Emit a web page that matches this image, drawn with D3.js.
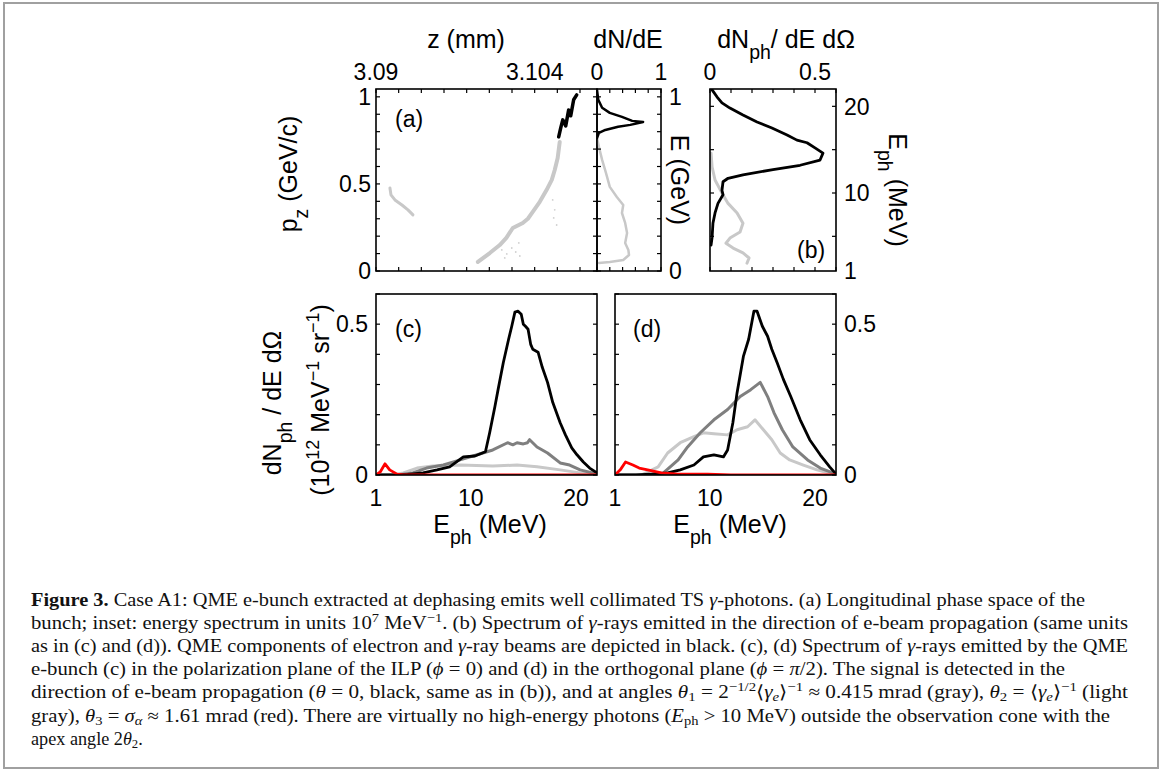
<!DOCTYPE html>
<html><head><meta charset="utf-8">
<script src="https://cdn.jsdelivr.net/npm/d3@7"></script>
<style>body{margin:0;background:#fff}svg{display:block}</style>
</head><body>
<svg id="c" width="1165" height="771"></svg>
<script>
// ---------------- DATA ----------------
// (a) longitudinal phase space: z (mm) vs p_z (GeV/c)
const phaseGrayZ  = [3.09899,3.10004,3.10092,3.10150,3.10207,3.10295,3.10340,3.10383,3.10445,3.10506,3.10551,3.10577,3.10603,3.10621];
const phaseGrayPz = [0.052,0.103,0.149,0.190,0.247,0.276,0.300,0.339,0.397,0.466,0.523,0.580,0.649,0.741];
const phaseBlackZ  = [3.10612,3.10630,3.10648,3.10674,3.10700,3.10718,3.10744,3.10771];
const phaseBlackPz = [0.770,0.822,0.868,0.833,0.925,0.891,0.983,1.011];
const phaseTailZ  = [3.09123,3.09132,3.09167,3.09229,3.09282,3.09326];
const phaseTailPz = [0.477,0.437,0.408,0.379,0.351,0.322];
const haloZ  = [3.1011,3.10154,3.10198,3.10233,3.10136,3.10260,3.10559,3.10577,3.10594,3.10568,3.10269];
const haloPz = [0.121,0.098,0.132,0.109,0.075,0.161,0.408,0.351,0.264,0.305,0.086];
// inset: dN/dE vs E (GeV)
const insetBlackN = [0,0.02,0.08,0.2,0.39,0.55,0.72,0.52,0.33,0.13,0.03,0];
const insetBlackE = [1.04,0.983,0.937,0.908,0.885,0.862,0.856,0.839,0.828,0.810,0.793,0.764];
const insetGrayN = [0,0.03,0.08,0.14,0.2,0.31,0.41,0.39,0.44,0.47,0.44,0.49,0.5,0.41,0.2,0.03];
const insetGrayE = [0.764,0.713,0.638,0.563,0.483,0.425,0.379,0.333,0.276,0.218,0.161,0.121,0.092,0.063,0.052,0.046];
// (b) dN_ph/dE dΩ vs E_ph (MeV)
const bBlackN = [0.01,0.033,0.057,0.095,0.157,0.224,0.295,0.367,0.414,0.462,0.5,0.538,0.524,0.429,0.3,0.157,0.086,0.062,0.057,0.062,0.038,0.024,0.014,0.01,0.005];
const bBlackE = [21.9,21.1,20.4,19.8,19.0,18.2,17.5,16.7,16.1,15.8,15.2,14.6,13.8,13.2,12.7,12.1,11.7,11.3,10.3,9.8,8.8,7.7,6.5,4.9,4.0];
const bGrayN = [0.005,0.01,0.024,0.057,0.086,0.129,0.157,0.143,0.095,0.076,0.110,0.157,0.186,0.176];
const bGrayE = [14.6,13.0,11.5,10.0,8.8,7.7,6.5,5.5,4.8,4.2,3.65,3.1,2.5,1.9];
// (c) phi = 0 : E_ph (MeV) vs dN_ph/dE dΩ
const cBlackE = [1,3,4,5.47,6.8,8.0,9.3,10.4,11.4,11.8,12.3,12.6,13.1,13.6,13.9,14.2,14.5,14.8,15.0,15.2,15.45,15.7,15.9,16.4,16.8,17.3,17.8,18.5,19.0,19.6,20.1,20.7,21.3,22];
const cBlackV = [0,0,0.002,0.007,0.017,0.027,0.06,0.063,0.077,0.14,0.227,0.283,0.373,0.45,0.493,0.54,0.543,0.533,0.5,0.493,0.483,0.433,0.417,0.407,0.357,0.307,0.24,0.173,0.133,0.09,0.067,0.043,0.023,0.007];
const cGrayE = [1,3,4.5,5.8,7.4,9.0,10.6,12.1,13.5,14.0,14.4,15.0,15.4,15.6,16.3,17.3,18.5,19.4,20.4,22];
const cGrayV = [0,0,0.007,0.023,0.033,0.05,0.067,0.083,0.107,0.100,0.107,0.103,0.107,0.117,0.093,0.073,0.04,0.033,0.017,0.003];
const cLightE = [1,2.5,3.6,4.9,6.4,9.0,12.1,14.4,16.3,18.5,20.4,22];
const cLightV = [0,0,0.007,0.023,0.03,0.033,0.03,0.033,0.027,0.017,0.007,0];
const cRedE = [1,1.4,1.86,2.3,3.0,3.6,22];
const cRedV = [0,0.01,0.037,0.017,0.003,0,0];
// (d) phi = pi/2
const dBlackE = [1,3,4.4,6.0,7.2,8.5,9.4,10.4,11.3,11.7,12.2,12.6,13.2,13.7,14.2,14.5,15.0,15.5,15.9,16.4,17.0,17.7,18.6,19.5,20.5,21.4,21.9];
const dBlackV = [0,0,0.003,0.007,0.017,0.033,0.06,0.067,0.06,0.083,0.173,0.273,0.393,0.45,0.543,0.543,0.493,0.46,0.417,0.373,0.317,0.26,0.183,0.117,0.067,0.027,0.007];
const dGrayE = [1,3,4.1,5.6,7.0,7.9,9.1,10.4,11.7,12.9,13.9,14.8,15.5,16.1,16.9,17.9,19.3,20.5,21.7];
const dGrayV = [0,0,0,0.007,0.05,0.093,0.14,0.183,0.217,0.26,0.283,0.307,0.26,0.207,0.15,0.093,0.05,0.023,0.007];
const dLightE = [1,2.5,3.5,5.1,6.0,7.2,8.5,9.4,10.4,11.7,12.6,13.6,14.3,15.1,15.9,16.7,17.6,18.9,20.2,21.7];
const dLightV = [0,0,0,0.027,0.073,0.107,0.127,0.14,0.137,0.133,0.15,0.16,0.183,0.15,0.117,0.073,0.05,0.033,0.017,0.003];
const dRedE = [1,1.5,2.0,2.7,3.3,4.1,5.4,7.0,9.8,12,22];
const dRedV = [0,0.017,0.043,0.033,0.023,0.017,0.007,0.003,0.003,0,0];

// ticks and tick labels
const zTicks = [3.090,3.092,3.094,3.096,3.098,3.100,3.102,3.104,3.106,3.108];
const zTickLabels = [[3.090,"3.09"],[3.104,"3.104"]];
const pzTicks = [0,0.1,0.2,0.3,0.4,0.5,0.6,0.7,0.8,0.9,1.0];
const pzTickLabels = [[0,"0"],[0.5,"0.5"],[1,"1"]];
const insetXTicks = [0,0.2,0.4,0.6,0.8,1];
const insetXLabels = [[0,"0"],[1,"1"]];
const insetYLabels = [[0,"0"],[1,"1"]];
const bXTicks = [0,0.1,0.2,0.3,0.4,0.5,0.6];
const bXLabels = [[0,"0"],[0.5,"0.5"]];
const ephTicks = [5,10,15,20];
const ephLabels = [[1,"1"],[10,"10"],[20,"20"]];
const specTicks = [0,0.1,0.2,0.3,0.4,0.5,0.6];
const specLabels = [[0,"0"],[0.5,"0.5"]];

// caption
const caption = [
 [["Figure 3.","b"],[" Case A1: QME e-bunch extracted at dephasing emits well collimated TS "],["γ","i"],["-photons. (a) Longitudinal phase space of the"]],
 [["bunch; inset: energy spectrum in units 10"],["7","sup"],[" MeV"],["−1","sup"],[". (b) Spectrum of "],["γ","i"],["-rays emitted in the direction of e-beam propagation (same units"]],
 [["as in (c) and (d)). QME components of electron and "],["γ","i"],["-ray beams are depicted in black. (c), (d) Spectrum of "],["γ","i"],["-rays emitted by the QME"]],
 [["e-bunch (c) in the polarization plane of the ILP ("],["ϕ","i"],[" = 0) and (d) in the orthogonal plane ("],["ϕ","i"],[" = "],["π","i"],["/2). The signal is detected in the"]],
 [["direction of e-beam propagation ("],["θ","i"],[" = 0, black, same as in (b)), and at angles "],["θ","i"],["1","sub"],[" = 2"],["−1/2","sup"],["⟨"],["γ","i"],["e","isub"],["⟩"],["−1","sup"],[" ≈ 0.415 mrad (gray), "],["θ","i"],["2","sub"],[" = ⟨"],["γ","i"],["e","isub"],["⟩"],["−1","sup"],[" (light"]],
 [["gray), "],["θ","i"],["3","sub"],[" = "],["σ","i"],["α","isub"],[" ≈ 1.61 mrad (red). There are virtually no high-energy photons ("],["E","i"],["ph","sub"],[" > 10 MeV) outside the observation cone with the"]],
 [["apex angle 2"],["θ","i"],["2","sub"],["."]]
];
const captionEnds = [1085,1128,1128,1065,1128,1110,null];

// ---------------- DRAW ----------------
const svg = d3.select("#c");
const FONT = "'Liberation Sans', Arial, Helvetica, sans-serif";
const TFS = 23, LFS = 25;

svg.append("rect").attr("x",4).attr("y",3).attr("width",1154).attr("height",765)
  .attr("fill","none").attr("stroke","#a0a0a0").attr("stroke-width",2);

const PA = {x:376,y:89,w:221,h:182}, PI = {x:597,y:89,w:64,h:182}, PB = {x:710,y:89,w:126,h:182};
const PC = {x:376,y:294,w:221,h:181}, PD = {x:615,y:294,w:221,h:181};

const xZ = d3.scaleLinear([3.09,3.1095],[PA.x,PA.x+PA.w]);
const yP = d3.scaleLinear([0,1.045],[PA.y+PA.h,PA.y]);
const xI = d3.scaleLinear([0,1],[PI.x,PI.x+PI.w]);
const xB = d3.scaleLinear([0,0.6],[PB.x,PB.x+PB.w]);
const yB = d3.scaleLinear([1,22],[PB.y+PB.h,PB.y]);
const xC = d3.scaleLinear([1,22],[PC.x,PC.x+PC.w]);
const yC = d3.scaleLinear([0,0.6],[PC.y+PC.h,PC.y]);
const xD = d3.scaleLinear([1,22],[PD.x,PD.x+PD.w]);
const yD = d3.scaleLinear([0,0.6],[PD.y+PD.h,PD.y]);

function clip(id,p){ svg.append("clipPath").attr("id",id).append("rect").attr("x",p.x).attr("y",p.y).attr("width",p.w).attr("height",p.h); }
clip("ca",PA); clip("ci",PI); clip("cb",PB); clip("cc",PC); clip("cd",PD);

function curve(xs,ys,sx,sy,color,w,cl){
  const pts = xs.map((v,i)=>[sx(v),sy(ys[i])]);
  svg.append("path").attr("d",d3.line()(pts)).attr("fill","none").attr("stroke",color)
    .attr("stroke-width",w).attr("stroke-linejoin","round").attr("stroke-linecap","round")
    .attr("clip-path","url(#"+cl+")");
}
function tickLine(x1,y1,x2,y2){ svg.append("line").attr("x1",x1).attr("y1",y1).attr("x2",x2).attr("y2",y2).attr("stroke","#000").attr("stroke-width",1.2); }
function xTicks(s,vals,p,len){ vals.forEach(v=>{const x=s(v); tickLine(x,p.y,x,p.y+len); tickLine(x,p.y+p.h,x,p.y+p.h-len);}); }
function yTicks(s,vals,p,len){ vals.forEach(v=>{const y=s(v); tickLine(p.x,y,p.x+len,y); tickLine(p.x+p.w,y,p.x+p.w-len,y);}); }
function frame(p){ svg.append("rect").attr("x",p.x).attr("y",p.y).attr("width",p.w).attr("height",p.h).attr("fill","none").attr("stroke","#000").attr("stroke-width",1.6); }
function txt(x,y,t,anchor,fs){ return svg.append("text").attr("x",x).attr("y",y).attr("text-anchor",anchor||"start")
  .attr("font-family",FONT).attr("font-size",fs||TFS).attr("fill","#000").text(t); }
function rich(parent,segs,fs){
  segs.forEach(([t,k])=>{
    const ts = parent.append("tspan").text(t);
    if(k==="sub"){ ts.attr("font-size",fs*0.78).attr("baseline-shift",(-0.44*fs)+"px"); }
    if(k==="sup"){ ts.attr("font-size",fs*0.72).attr("baseline-shift",(0.42*fs)+"px"); }
  });
}
function richLabel(x,y,rot,segs,fs,anchor){
  const t = svg.append("text").attr("transform",`translate(${x},${y}) rotate(${rot})`)
    .attr("text-anchor",anchor||"middle").attr("font-family",FONT).attr("font-size",fs).attr("fill","#000");
  rich(t,segs,fs); return t;
}

// ---- panel (a)
curve(phaseTailZ,phaseTailPz,xZ,yP,"#c8c8c8",3,"ca");
haloZ.forEach((z,i)=>svg.append("circle").attr("cx",xZ(z)).attr("cy",yP(haloPz[i])).attr("r",0.9).attr("fill","#d0d0d0"));
curve(phaseGrayZ,phaseGrayPz,xZ,yP,"#c8c8c8",4,"ca");
curve(phaseBlackZ,phaseBlackPz,xZ,yP,"#000",3.5,"ca");
xTicks(xZ,zTicks,PA,4); yTicks(yP,pzTicks,PA,4); frame(PA);
zTickLabels.forEach(([v,l])=>txt(xZ(v),PA.y-9,l,"middle"));
pzTickLabels.forEach(([v,l])=>txt(PA.x-5,yP(v),l,"end").attr("dy","0.36em"));
txt(466,48,"z (mm)","middle",LFS);
richLabel(297,174,-90,[["p"],["z","sub"],[" (GeV/c)"]],LFS);
txt(395,127,"(a)","start",TFS);

// ---- inset
curve(insetGrayN,insetGrayE,xI,yP,"#c8c8c8",2.5,"ci");
curve(insetBlackN,insetBlackE,xI,yP,"#000",2.5,"ci");
xTicks(xI,insetXTicks,PI,4); yTicks(yP,pzTicks,PI,4); frame(PI);
insetXLabels.forEach(([v,l])=>txt(xI(v),PI.y-9,l,"middle"));
insetYLabels.forEach(([v,l])=>txt(PI.x+PI.w+8,yP(v),l,"start").attr("dy","0.36em"));
txt(628,48,"dN/dE","middle",LFS);
richLabel(671,180,90,[["E (GeV)"]],LFS);

// ---- panel (b)
curve(bGrayN,bGrayE,xB,yB,"#c8c8c8",3,"cb");
curve(bBlackN,bBlackE,xB,yB,"#000",2.8,"cb");
xTicks(xB,bXTicks,PB,4); yTicks(yB,ephTicks,PB,4); frame(PB);
bXLabels.forEach(([v,l])=>txt(xB(v),PB.y-9,l,"middle"));
ephLabels.forEach(([v,l])=>txt(PB.x+PB.w+8,yB(v),l,"start").attr("dy","0.36em"));
richLabel(786,48,0,[["dN"],["ph","sub"],["/ dE dΩ"]],LFS);
richLabel(889,190,90,[["E"],["ph","sub"],[" (MeV)"]],LFS);
txt(797,258,"(b)","start",TFS);

// ---- panel (c)
curve(cLightE,cLightV,xC,yC,"#c8c8c8",3,"cc");
curve(cGrayE,cGrayV,xC,yC,"#7f7f7f",3,"cc");
curve(cBlackE,cBlackV,xC,yC,"#000",2.8,"cc");
curve(cRedE,cRedV,xC,yC,"#ff0000",2.8,"cc");
yTicks(yC,specTicks,PC,4); frame(PC);
specLabels.forEach(([v,l])=>txt(PC.x-8,yC(v),l,"end").attr("dy","0.36em"));
ephLabels.forEach(([v,l])=>txt(xC(v),506,l,"middle"));
richLabel(490,533,0,[["E"],["ph","sub"],[" (MeV)"]],LFS);
richLabel(281,403,-90,[["dN"],["ph","sub"],[" / dE dΩ"]],LFS);
richLabel(329,400,-90,[["(10"],["12","sup"],[" MeV"],["−1","sup"],[" sr"],["−1","sup"],[")"]],LFS);
txt(395,337,"(c)","start",TFS);

// ---- panel (d)
curve(dLightE,dLightV,xD,yD,"#c8c8c8",3,"cd");
curve(dGrayE,dGrayV,xD,yD,"#7f7f7f",3,"cd");
curve(dBlackE,dBlackV,xD,yD,"#000",2.8,"cd");
curve(dRedE,dRedV,xD,yD,"#ff0000",2.8,"cd");
yTicks(yD,specTicks,PD,4); frame(PD);
specLabels.forEach(([v,l])=>txt(PD.x+PD.w+8,yD(v),l,"start").attr("dy","0.36em"));
ephLabels.forEach(([v,l])=>txt(xD(v),506,l,"middle"));
richLabel(730,533,0,[["E"],["ph","sub"],[" (MeV)"]],LFS);
txt(633,337,"(d)","start",TFS);

// ---- caption
const CFS = 18.2;
caption.forEach((segs,i)=>{
  const t = svg.append("text").attr("x",31).attr("y",606+i*23.1)
    .attr("font-family","'Liberation Serif','Times New Roman',serif").attr("font-size",CFS).attr("fill","#111");
  segs.forEach(([s,k])=>{
    const ts = t.append("tspan").text(s);
    if(k==="b") ts.attr("font-weight","bold");
    if(k==="i") ts.attr("font-style","italic");
    if(k==="sup") ts.attr("font-size",CFS*0.7).attr("baseline-shift","7px");
    if(k==="sub") ts.attr("font-size",CFS*0.7).attr("baseline-shift","-3px");
    if(k==="isub") ts.attr("font-size",CFS*0.7).attr("baseline-shift","-3px").attr("font-style","italic");
  });
  if(captionEnds[i]) t.attr("textLength",captionEnds[i]-31).attr("lengthAdjust","spacingAndGlyphs");
});
</script>
</body></html>
